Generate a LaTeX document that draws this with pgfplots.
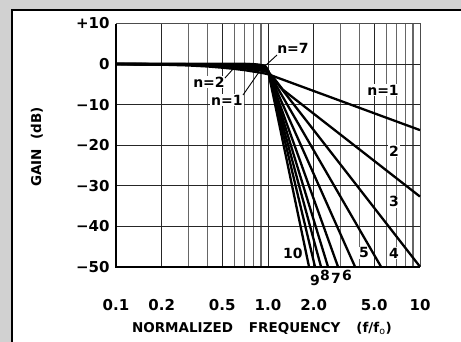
\documentclass[border=0pt]{standalone}
\usepackage{fontspec}
\setmainfont{DejaVu Sans}
\usepackage{pgfplots}
\pgfplotsset{compat=1.18}
\newcommand{\tkfont}{\fontsize{15}{15}\selectfont\bfseries}
\newcommand{\lbfont}{\fontsize{14}{14}\selectfont\bfseries}
\newcommand{\lafont}{\fontsize{13.5}{14}\selectfont\bfseries}
\tikzset{curve/.style={black, solid, mark=none, line width=2.3pt, line join=round}}
\begin{document}
\begin{tikzpicture}[x=1pt,y=1pt]
\useasboundingbox (0,0) rectangle (461,342);
\fill[black!18] (0,0) rectangle (461,342);
\fill[white] (12,0) rectangle (461,332);
\draw[line width=2pt] (12,0) -- (12,332) -- (461,332);
\begin{axis}[
  at={(116pt,75.3pt)}, anchor=south west,
  scale only axis, width=304pt, height=243.2pt,
  xmode=log, xmin=0.1, xmax=10, ymin=-50, ymax=10,
  xtick={0.1,0.2,0.5,1,2,5,10},
  xticklabels={0.1,0.2,0.5,1.0,2.0,5.0,10},
  minor xtick={0.3,0.4,0.6,0.7,0.8,0.9,3,4,6,7,8,9},
  ytick={-50,-40,-30,-20,-10,0,10},
  yticklabels={−50,−40,−30,−20,−10,0,+10},
  xmajorgrids, xminorgrids, ymajorgrids,
  major tick length=0pt, minor tick length=0pt,
  major grid style={black!85, line width=0.9pt},
  minor grid style={black!60, line width=1.1pt},
  axis line style={black!70, line width=0.8pt},
  xticklabel style={font=\tkfont, anchor=center, yshift=-38pt},
  yticklabel style={font=\tkfont, anchor=east, xshift=-3pt},
  xlabel={NORMALIZED\hspace{16pt}FREQUENCY\hspace{16pt}(f/f$_{\mathrm{o}}$)},
  xlabel style={font=\lafont, at={(axis description cs:0.48,-0.255)}, anchor=center},
  ylabel={GAIN\ \ (dB)},
  ylabel style={font=\lafont, at={(axis description cs:-0.26,0.492)}, anchor=center},
  clip=false,
]
% labels (white background, under the curves)
\node[fill=white, inner sep=1pt, font=\lbfont] at (axis cs:1.46,3.96) {n=7};
\node[fill=white, inner sep=1pt, font=\lbfont] at (axis cs:0.409,-4.43) {n=2};
\node[fill=white, inner sep=1pt, font=\lbfont] at (axis cs:0.537,-8.87) {n=1};
\node[fill=white, inner sep=1pt, font=\lbfont] at (axis cs:5.71,-6.4) {n=1};
\node[fill=white, inner sep=1pt, font=\lbfont] at (axis cs:6.75,-21.45) {2};
\node[fill=white, inner sep=1pt, font=\lbfont] at (axis cs:6.75,-34.0) {3};
\node[fill=white, inner sep=1pt, font=\lbfont] at (axis cs:6.75,-46.6) {4};
\node[fill=white, inner sep=1pt, font=\lbfont] at (axis cs:4.28,-46.6) {5};
\node[fill=white, inner sep=1pt, font=\lbfont] at (axis cs:1.46,-46.6) {10};
\node[inner sep=0pt, font=\lbfont] at (axis cs:2.04,-53.5) {9};
\node[inner sep=0pt, font=\lbfont] at (axis cs:2.37,-52.05) {8};
\node[inner sep=0pt, font=\lbfont] at (axis cs:2.80,-53.0) {7};
\node[inner sep=0pt, font=\lbfont] at (axis cs:3.31,-52.05) {6};
\draw[line width=0.9pt] (axis cs:1.146,2.23) -- (axis cs:0.956,-0.48);
\draw[line width=0.9pt] (axis cs:0.521,-3.45) -- (axis cs:0.589,-1.22);
\draw[line width=0.9pt] (axis cs:0.685,-7.64) -- (axis cs:0.873,-1.96);
% n = 1
\addplot[curve] coordinates {(0.1,0) (0.2,-0.15) (0.3,-0.35) (0.4,-0.6) (0.5,-0.9) (0.6,-1.2) (0.7,-1.5) (0.8,-1.85) (0.9,-2.15) (1.0,-2.5) (10,-16.3)};
% n = 2
\addplot[curve] coordinates {(0.1,0) (0.3,-0.1) (0.5,-0.45) (0.6,-0.75) (0.7,-1.05) (0.8,-1.35) (0.9,-1.6) (1.0,-2.0) (1.1,-3.6) (1.25,-6.3) (10,-32.7)};
% n = 3
\addplot[curve] coordinates {(0.1,0) (0.4,-0.1) (0.6,-0.4) (0.8,-0.9) (0.9,-1.3) (1.0,-1.8) (10,-50)};
% n = 4
\addplot[curve] coordinates {(0.1,0) (0.5,-0.1) (0.7,-0.4) (0.85,-0.9) (1.0,-1.8) (5.539,-50)};
% n = 5
\addplot[curve] coordinates {(0.1,0) (0.55,-0.1) (0.75,-0.4) (0.9,-0.9) (1.0,-1.8) (3.736,-50)};
% n = 6
\addplot[curve] coordinates {(0.1,0) (0.6,-0.1) (0.8,-0.4) (0.92,-0.9) (1.0,-1.8) (2.887,-50)};
% n = 7
\addplot[curve] coordinates {(0.1,0) (0.65,-0.05) (0.85,-0.3) (0.94,-0.7) (1.0,-1.6) (2.481,-50)};
% n = 8
\addplot[curve] coordinates {(0.1,0) (0.7,0) (0.88,-0.3) (0.95,-0.7) (1.0,-1.6) (2.232,-50)};
% n = 9
\addplot[curve] coordinates {(0.1,0) (0.75,0) (0.9,-0.3) (0.96,-0.7) (1.0,-1.6) (2.038,-50)};
% n = 10
\addplot[curve] coordinates {(0.1,0) (0.8,0) (0.92,-0.3) (0.97,-0.7) (1.0,-1.6) (1.861,-50)};
\draw[line width=2.2pt] (rel axis cs:0,1) -- (rel axis cs:0,0) -- (rel axis cs:1,0);
\end{axis}
\end{tikzpicture}
\end{document}
